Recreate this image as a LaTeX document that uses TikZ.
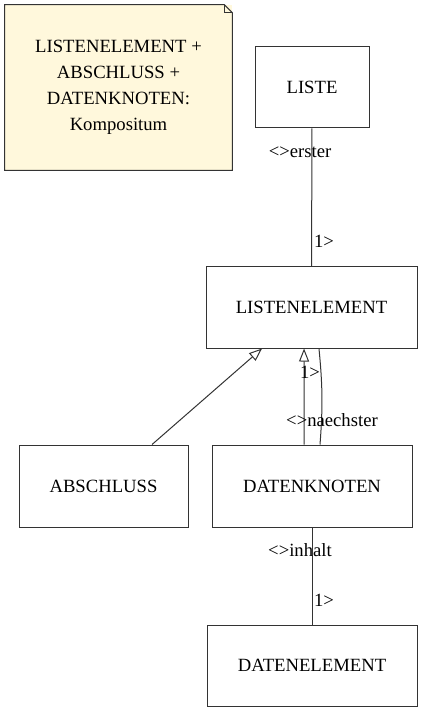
\documentclass[tikz,border=0pt]{standalone}
\usepackage{fontspec}
\setmainfont{Liberation Serif}
\usetikzlibrary{arrows.meta}
\definecolor{notizgelb}{RGB}{255,248,220}
\begin{document}
\begin{tikzpicture}[x=0.75pt, y=-0.75pt,
		every node/.style={font=\fontsize{14}{19.5}\selectfont},
		klasse/.style={draw=black!80, line width=0.75pt, inner sep=0pt, minimum height=60.75pt},
		rolle/.style={inner sep=0pt},
		kante/.style={draw=black!80, line width=0.75pt},
		erbt/.style={kante, -{Triangle[open, length=9.75pt, width=7.5pt]}}]
	\useasboundingbox (0,0) rectangle (423,712);
	\node[fill=notizgelb, inner sep=0pt, minimum width=170.25pt, minimum height=123.75pt, align=center] (notiz) at (118.5,87.5) {LISTENELEMENT +\\ABSCHLUSS +\\DATENKNOTEN:\\Kompositum};
	\draw[kante] (notiz.north west) -- ([xshift=-6pt]notiz.north east) -- ([yshift=-6pt]notiz.north east) -- (notiz.south east) -- (notiz.south west) -- cycle;
	\draw[kante] ([xshift=-6pt]notiz.north east) -- ([xshift=-6pt, yshift=-6pt]notiz.north east) -- ([yshift=-6pt]notiz.north east);
	\node[klasse, minimum width=85.5pt] (liste) at (312,87.5) {LISTE};
	\node[klasse, minimum width=158.25pt] (listenelement) at (311.5,307.5) {LISTENELEMENT};
	\node[klasse, minimum width=126.75pt, minimum height=61.5pt] (abschluss) at (103.5,486) {ABSCHLUSS};
	\node[klasse, minimum width=150pt, minimum height=61.5pt] (datenknoten) at (312,486) {DATENKNOTEN};
	\node[klasse, minimum width=157.5pt] (datenelement) at (312,665.5) {DATENELEMENT};
	\draw[kante] (liste) -- (listenelement);
	\draw[erbt] ([xshift=36.4pt]abschluss.north) -- ([xshift=-37.1pt]listenelement.south);
	\draw[erbt] ([xshift=-6pt]datenknoten.north) -- ([xshift=-5.6pt]listenelement.south);
	\draw[kante] ([xshift=6pt]datenknoten.north) to[bend right=5] ([xshift=5.6pt]listenelement.south);
	\draw[kante] (datenknoten) -- (datenelement);
	\node[rolle] (erster) at (300,152) {<>erster};
	\node[rolle] (erster-mult) at (324,241) {1>};
	\node[rolle] (naechster) at (332,420) {<>naechster};
	\node[rolle] (naechster-mult) at (310,372) {1>};
	\node[rolle] (inhalt) at (300,550) {<>inhalt};
	\node[rolle] (inhalt-mult) at (324,600) {1>};
\end{tikzpicture}
\end{document}
